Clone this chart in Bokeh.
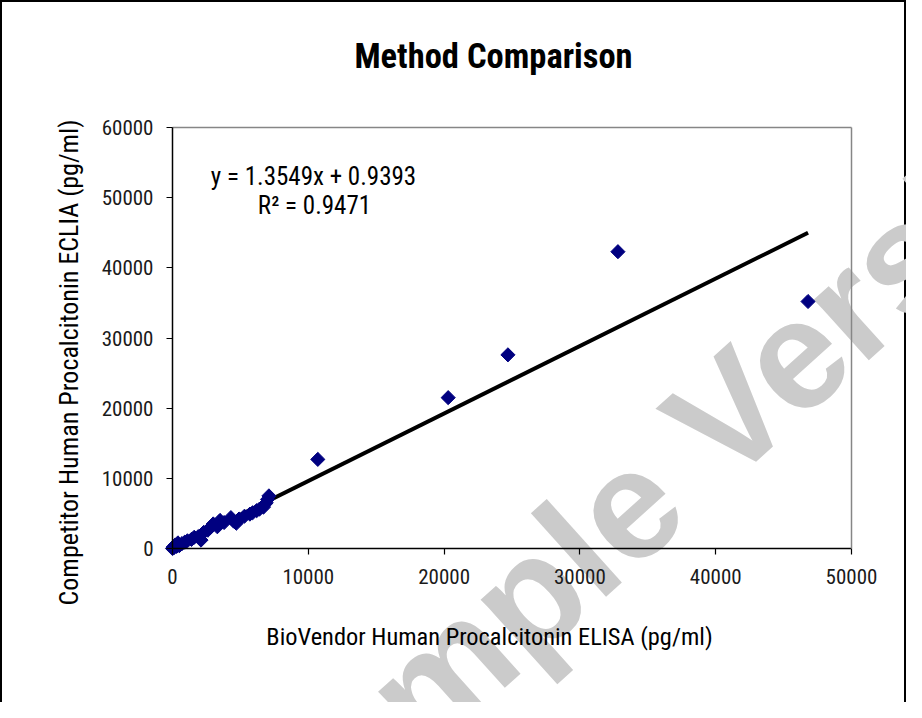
from bokeh.plotting import figure
from bokeh.models import Range1d, FixedTicker, Label, BasicTickFormatter, LinearAxis
from bokeh.embed import file_html
from bokeh.resources import INLINE

# ---- data ----
elisa_x = [46800, 32800, 24700, 20300, 10700,
           7100, 7000, 6900, 6700, 6400, 6200, 5900, 5700, 5300, 4900,
           4700, 4500, 4300, 3800, 3500, 3300, 3000, 2800, 2600, 2300,
           2100, 1900, 1600, 1400, 1100, 900, 700, 500, 400, 300, 200, 100, 50, 0]
eclia_y = [35200, 42300, 27600, 21500, 12700,
           7500, 7000, 6500, 5900, 5600, 5400, 5100, 4900, 4600, 4200,
           3600, 3900, 4400, 3700, 4000, 3100, 3500, 3000, 2600, 2300,
           1200, 1700, 1600, 1300, 1100, 900, 700, 400, 800, 300, 500, 100, 200, 0]
trend_x = [0, 46800]
trend_y = [0, 45000]
x_ticks = [0, 10000, 20000, 30000, 40000, 50000]
y_ticks = [0, 10000, 20000, 30000, 40000, 50000, 60000]
x_min, x_max = 0, 50000
y_min, y_max = 0, 60000
equation_text = "y = 1.3549x + 0.9393"
r2_text = "R\u00b2 = 0.9471"
title_text = "Method Comparison"
x_label = "BioVendor Human Procalcitonin ELISA (pg/ml)"
y_label = "Competitor Human Procalcitonin ECLIA (pg/ml)"
watermark = "Sample Version"

# ---- layout (pixels) ----
W, H = 906, 702
PL, PR, PT, PB = 172, 851, 127, 548      # plot-area edges on the canvas

NARROW = "'Roboto Condensed', 'Liberation Sans Narrow', 'Arial Narrow', 'Liberation Sans', sans-serif"

# the frame covers the whole canvas; ranges are extended so that the data
# box falls on the plot-area rectangle, axes are pinned to its edges
ux = (x_max - x_min) / (PR - PL)
uy = (y_max - y_min) / (PB - PT)
p = figure(width=W, height=H, output_backend="svg", toolbar_location=None,
           x_range=Range1d(x_min - PL * ux, x_max + (W - PR) * ux),
           y_range=Range1d(y_min - (H - PB) * uy, y_max + PT * uy),
           min_border=0, x_axis_location=None, y_axis_location=None)
p.title.visible = False
p.border_fill_color = None
p.background_fill_color = None
p.outline_line_color = None
p.styles = {"background": "white",
            "box-shadow": "inset 2px 2px 0 0 #000, inset -2px 0 0 0 #000"}
p.xgrid.visible = False
p.ygrid.visible = False

# watermark beneath everything
p.add_layout(Label(x=677, y=H - 460, x_units="screen", y_units="screen",
                   text=watermark, angle=42, angle_units="deg",
                   text_align="center", text_baseline="alphabetic",
                   text_font="Liberation Sans", text_font_style="bold",
                   text_font_size="155px", text_color="#cbcbcb", level="underlay"))

def style_axis(ax, ticks, standoff):
    ax.ticker = FixedTicker(ticks=ticks)
    ax.formatter = BasicTickFormatter(use_scientific=False)
    ax.axis_line_color = "#000000"
    ax.axis_line_width = 1.5
    ax.major_tick_line_color = "#000000"
    ax.major_tick_line_width = 1.2
    ax.major_tick_out = 6
    ax.major_tick_in = 0
    ax.minor_tick_out = 0
    ax.minor_tick_in = 0
    ax.major_label_text_font = NARROW
    ax.major_label_text_font_size = "21px"
    ax.major_label_text_color = "#1a1a1a"
    ax.major_label_standoff = standoff

xaxis = LinearAxis(fixed_location=y_min, bounds=(x_min, x_max))
style_axis(xaxis, x_ticks, 14)
p.add_layout(xaxis, "below")
yaxis = LinearAxis(fixed_location=x_min, bounds=(y_min, y_max))
style_axis(yaxis, y_ticks, 13)
p.add_layout(yaxis, "left")

# grey top and right borders of the plot area
for loc, fixed, bnds in (("above", y_max, (x_min, x_max)), ("right", x_max, (y_min, y_max))):
    ax = LinearAxis(fixed_location=fixed, bounds=bnds, ticker=FixedTicker(ticks=[]),
                    axis_line_color="#868686", axis_line_width=1.5,
                    major_tick_out=0, major_tick_in=0, minor_tick_out=0, minor_tick_in=0,
                    major_label_text_font_size="0px")
    p.add_layout(ax, loc)

# trend line and points
p.line(trend_x, trend_y, line_color="#000000", line_width=4)
p.scatter(elisa_x, eclia_y, marker="square", angle=0.785398, size=10,
          fill_color="#000080", line_color="#000080")

# title, axis titles and regression equation
def txt(x, y, s, size, bold=False, angle=0):
    p.add_layout(Label(x=x, y=H - y, x_units="screen", y_units="screen", text=s,
                       angle=angle, angle_units="deg",
                       text_align="center", text_baseline="middle",
                       text_font=NARROW, text_font_size=size,
                       text_font_style="bold" if bold else "normal",
                       text_color="#000000"))

txt(493, 55, title_text, "34.5px", bold=True)
txt(489, 636, x_label, "24.4px")
txt(68, 362, y_label, "26px", angle=90)
txt(313, 176, equation_text, "25px")
txt(314, 205, r2_text, "25px")

open("out.html", "w").write(file_html(p, INLINE))
